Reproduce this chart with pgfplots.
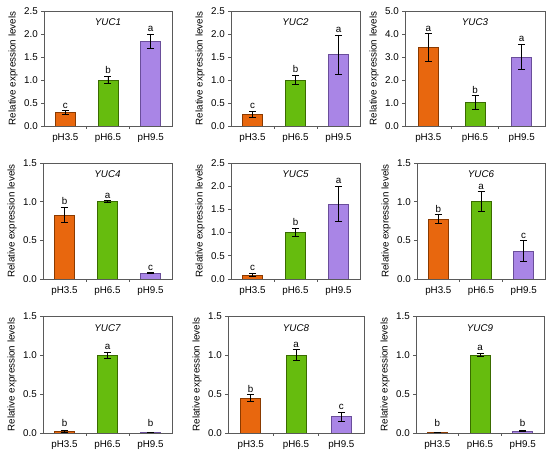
\documentclass[border=0pt]{standalone}
\usepackage{fontspec}
\setmainfont{Liberation Sans}
\usepackage{pgfplots}
\pgfplotsset{compat=1.18}
\definecolor{cOr}{HTML}{E8670E}
\definecolor{cOrE}{HTML}{8A3A00}
\definecolor{cGr}{HTML}{66BC0E}
\definecolor{cGrE}{HTML}{3A6B00}
\definecolor{cPu}{HTML}{A985E6}
\definecolor{cPuE}{HTML}{6A4E9A}
\definecolor{axgray}{HTML}{5A5A5A}
\newcommand{\lab}[3]{\node[anchor=base,yshift=2.5bp] at (axis cs:#1,#2) {#3};}
\newcommand{\ttl}[1]{\node[font=\itshape, anchor=center] at (axis description cs:0.5,0.90) {#1};}
\pgfplotsset{
  panel/.style={
    scale only axis, anchor=south west,
    xmin=0.5, xmax=3.5, ymin=0,
    axis line style={axgray, line width=0.6pt},
    xtick={1.5,2.5}, xticklabels={}, xtick align=inside, xtick pos=lower,
    major x tick style={axgray, line width=0.6pt}, 
    extra x ticks={1,2,3}, extra x tick labels={pH3.5,pH6.5,pH9.5},
    extra x tick style={major tick length=0pt, xticklabel style={yshift=-4bp}},
    ytick pos=left, ytick align=outside, major tick length=2.8bp,
    major y tick style={axgray, line width=0.6pt},
    /pgf/number format/assume math mode=true,
    yticklabel style={/pgf/number format/.cd, fixed, fixed zerofill, precision=1},
    ylabel={Relative expression levels},
    every axis y label/.style={at={([xshift=-31bp]axis description cs:0,0.5)}, anchor=center, rotate=90},
    ybar, bar width=20bp, bar shift=0pt,
    error bars/y dir=both, error bars/y explicit,
    error bars/error bar style={black, line width=0.6pt},
    error bars/error mark options={rotate=90, mark size=3.5bp, black, line width=0.6pt},
  },
  bo/.style={fill=cOr, draw=cOrE, line width=0.6pt},
  bg/.style={fill=cGr, draw=cGrE, line width=0.6pt},
  bp/.style={fill=cPu, draw=cPuE, line width=0.6pt},
}
\begin{document}
\fontsize{9.8bp}{11bp}\selectfont
\begin{tikzpicture}
\path[use as bounding box] (0,0) rectangle (550bp,454bp);
% Row 1
\begin{axis}[panel, at={(44bp,328bp)}, width=128bp, height=115bp, ymax=2.5, ytick={0,0.5,...,2.5}]
\addplot[bo] coordinates {(1,0.29) +- (0,0.045)};
\addplot[bg] coordinates {(2,1.00) +- (0,0.08)};
\addplot[bp] coordinates {(3,1.84) +- (0,0.16)};
\lab{1}{0.335}{c}\lab{2}{1.08}{b}\lab{3}{2.00}{a}\ttl{YUC1}
\end{axis}
\begin{axis}[panel, at={(231bp,328bp)}, width=129bp, height=115bp, ymax=2.5, ytick={0,0.5,...,2.5}]
\addplot[bo] coordinates {(1,0.25) +- (0,0.07)};
\addplot[bg] coordinates {(2,1.00) +- (0,0.10)};
\addplot[bp] coordinates {(3,1.55) +- (0,0.43)};
\lab{1}{0.32}{c}\lab{2}{1.10}{b}\lab{3}{1.98}{a}\ttl{YUC2}
\end{axis}
\begin{axis}[panel, at={(405bp,328bp)}, width=140bp, height=115bp, ymax=5, ytick={0,1,...,5}]
\addplot[bo] coordinates {(1,3.41) +- (0,0.60)};
\addplot[bg] coordinates {(2,1.03) +- (0,0.29)};
\addplot[bp] coordinates {(3,3.00) +- (0,0.55)};
\lab{1}{4.01}{a}\lab{2}{1.32}{b}\lab{3}{3.55}{a}\ttl{YUC3}
\end{axis}
% Row 2
\begin{axis}[panel, at={(43bp,175bp)}, width=129bp, height=116bp, ymax=1.5, ytick={0,0.5,...,1.5}]
\addplot[bo] coordinates {(1,0.83) +- (0,0.10)};
\addplot[bg] coordinates {(2,1.00) +- (0,0.012)};
\addplot[bp] coordinates {(3,0.077) +- (0,0.006)};
\lab{1}{0.93}{b}\lab{2}{1.012}{a}\lab{3}{0.083}{c}\ttl{YUC4}
\end{axis}
\begin{axis}[panel, at={(231bp,175bp)}, width=129bp, height=116bp, ymax=2.5, ytick={0,0.5,...,2.5}]
\addplot[bo] coordinates {(1,0.086) +- (0,0.035)};
\addplot[bg] coordinates {(2,1.00) +- (0,0.09)};
\addplot[bp] coordinates {(3,1.62) +- (0,0.38)};
\lab{1}{0.121}{c}\lab{2}{1.09}{b}\lab{3}{2.00}{a}\ttl{YUC5}
\end{axis}
\begin{axis}[panel, at={(417bp,175bp)}, width=128bp, height=116bp, ymax=1.5, ytick={0,0.5,...,1.5}]
\addplot[bo] coordinates {(1,0.776) +- (0,0.056)};
\addplot[bg] coordinates {(2,1.00) +- (0,0.13)};
\addplot[bp] coordinates {(3,0.36) +- (0,0.135)};
\lab{1}{0.832}{b}\lab{2}{1.13}{a}\lab{3}{0.495}{c}\ttl{YUC6}
\end{axis}
% Row 3
\begin{axis}[panel, at={(43bp,21bp)}, width=129bp, height=117bp, ymax=1.5, ytick={0,0.5,...,1.5}]
\addplot[bo] coordinates {(1,0.025) +- (0,0.01)};
\addplot[bg] coordinates {(2,1.00) +- (0,0.04)};
\addplot[bp] coordinates {(3,0.003) +- (0,0.002)};
\lab{1}{0.045}{b}\lab{2}{1.04}{a}\lab{3}{0.045}{b}\ttl{YUC7}
\end{axis}
\begin{axis}[panel, at={(228bp,21bp)}, width=136bp, height=117bp, ymax=1.5, ytick={0,0.5,...,1.5}]
\addplot[bo] coordinates {(1,0.45) +- (0,0.04)};
\addplot[bg] coordinates {(2,1.00) +- (0,0.07)};
\addplot[bp] coordinates {(3,0.21) +- (0,0.055)};
\lab{1}{0.49}{b}\lab{2}{1.07}{a}\lab{3}{0.265}{c}\ttl{YUC8}
\end{axis}
\begin{axis}[panel, at={(416bp,21bp)}, width=128bp, height=117bp, ymax=1.5, ytick={0,0.5,...,1.5}]
\addplot[bo] coordinates {(1,0.005) +- (0,0.003)};
\addplot[bg] coordinates {(2,1.00) +- (0,0.02)};
\addplot[bp] coordinates {(3,0.025) +- (0,0.008)};
\lab{1}{0.045}{b}\lab{2}{1.02}{a}\lab{3}{0.045}{b}\ttl{YUC9}
\end{axis}
\end{tikzpicture}
\end{document}
